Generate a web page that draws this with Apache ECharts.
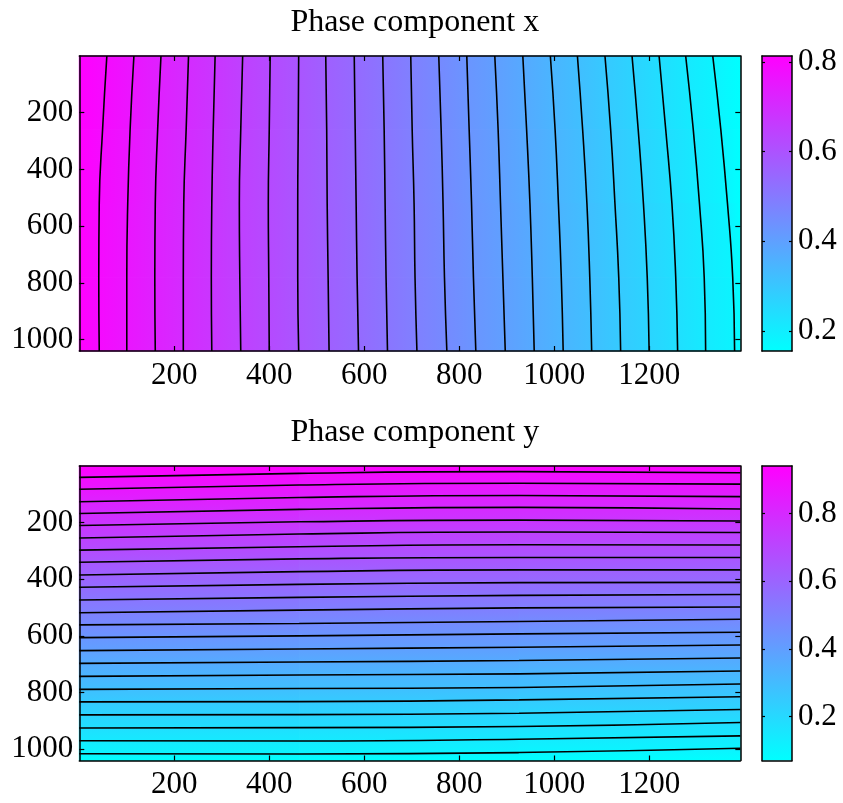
<!DOCTYPE html>
<html>
<head>
<meta charset="utf-8">
<script src="https://cdn.jsdelivr.net/npm/echarts@6/dist/echarts.min.js"></script>
<style>
html, body { margin: 0; padding: 0; background: #fff; }
#chart { width: 843px; height: 803px; }
</style>
</head>
<body>
<div id="chart"></div>
<script>
// image size (pixels)
var imgW = 1392
var imgH = 1040

// top panel: contour x positions, sampled at these rows
var topRowsY = [0, 260, 520, 780, 1040]
var topContourX = [
  [58, 49, 42, 41, 42],
  [115, 107, 102, 100, 100],
  [172, 165, 160, 159, 160],
  [230, 225, 220, 219, 219],
  [286, 282, 279, 278, 279],
  [344, 340, 337, 338, 340],
  [402, 400, 398, 399, 400],
  [462, 461, 460, 460, 462],
  [519, 521, 522, 524, 526],
  [579, 581, 583, 585, 588],
  [639, 642, 644, 646, 649],
  [698, 701, 705, 707, 711],
  [757, 762, 766, 769, 774],
  [816, 821, 826, 830, 835],
  [875, 882, 887, 892, 897],
  [934, 942, 949, 954, 958],
  [992, 1002, 1009, 1015, 1019],
  [1049, 1060, 1069, 1075, 1079],
  [1107, 1119, 1128, 1136, 1140],
  [1164, 1177, 1188, 1196, 1200],
  [1221, 1235, 1248, 1256, 1260],
  [1277, 1293, 1306, 1316, 1319],
  [1334, 1351, 1365, 1376, 1380]
]
var topLevels = [0.786, 0.758, 0.731, 0.703, 0.676, 0.649, 0.621, 0.594, 0.566, 0.539, 0.512, 0.484,
  0.457, 0.429, 0.402, 0.375, 0.347, 0.320, 0.292, 0.265, 0.238, 0.210, 0.183]
var topRange = [0.155, 0.813]

// bottom panel: contour y positions, sampled at these columns
var botColsX = [0, 463, 926, 1392]
var botContourY = [
  [40, 26, 20, 24],
  [82, 67, 61, 64],
  [126, 111, 104, 108],
  [168, 153, 146, 152],
  [210, 197, 191, 194],
  [254, 240, 233, 235],
  [297, 285, 278, 279],
  [340, 328, 323, 323],
  [385, 373, 367, 367],
  [428, 418, 412, 411],
  [473, 464, 457, 454],
  [518, 509, 501, 498],
  [561, 556, 549, 541],
  [606, 600, 593, 587],
  [652, 646, 640, 632],
  [697, 692, 687, 678],
  [743, 738, 734, 724],
  [789, 786, 782, 770],
  [833, 832, 826, 815],
  [879, 878, 873, 860],
  [925, 924, 920, 906],
  [970, 971, 965, 953],
  [1016, 1017, 1012, 997]
]
var botLevels = [0.904, 0.868, 0.831, 0.795, 0.759, 0.722, 0.686, 0.650, 0.614, 0.578, 0.541, 0.505,
  0.469, 0.433, 0.396, 0.360, 0.324, 0.288, 0.251, 0.215, 0.179, 0.143, 0.106]
var botRange = [0.07, 0.94]

var xTicks = [200, 400, 600, 800, 1000, 1200]
var yTicks = [200, 400, 600, 800, 1000]
var barTicks = [0.2, 0.4, 0.6, 0.8]
var titles = ['Phase component x', 'Phase component y']

var font = 'Liberation Serif'
var plotLeft = 79.3
var plotW = 661
var barLeft = 762
var barW = 30
var panelTop = [56, 466]
var panelH = [295, 294.5]

// matlab "cool" colormap
function cool(v, range) {
  var t = (v - range[0]) / (range[1] - range[0])
  t = Math.max(0, Math.min(1, t))
  return 'rgb(' + Math.round(255 * t) + ',' + Math.round(255 * (1 - t)) + ',255)'
}

function plain(v) {
  return String(v)
}

function xAx(grid, pos, min, max, ticks, labels) {
  return {
    type: 'value', gridIndex: grid, position: pos, min: min, max: max, z: 10,
    axisLine: { show: true, onZero: false, lineStyle: { color: '#000', width: 1.5 } },
    axisTick: { show: !!ticks, inside: true, length: 5, customValues: ticks || [], lineStyle: { color: '#000', width: 1.2 } },
    axisLabel: { show: labels, customValues: ticks || [], formatter: plain, margin: 9, color: '#000', fontSize: 31, fontFamily: font },
    splitLine: { show: false }
  }
}

function yAx(grid, pos, min, max, ticks, labels, inverse, tickLen) {
  return {
    type: 'value', gridIndex: grid, position: pos, min: min, max: max, inverse: inverse, z: 10,
    axisLine: { show: true, onZero: false, lineStyle: { color: '#000', width: 1.5 } },
    axisTick: { show: true, inside: true, length: tickLen, customValues: ticks, lineStyle: { color: '#000', width: 1.2 } },
    axisLabel: { show: labels, customValues: ticks, formatter: plain, margin: 6, color: '#000', fontSize: 31, fontFamily: font },
    splitLine: { show: false }
  }
}

// band polygons between neighbouring contours, one per sampled segment
function bandSeries(xi, yi, bounds, samples, vals, range, vertical) {
  var data = []
  for (var i = 0; i < bounds.length - 1; i++) {
    for (var r = 0; r < samples.length - 1; r++) data.push([i, r])
  }
  return {
    type: 'custom',
    xAxisIndex: xi,
    yAxisIndex: yi,
    silent: true,
    data: data,
    renderItem: function(params, api) {
      var i = api.value(0)
      var r = api.value(1)
      var pt = function(b, k) {
        return vertical ? api.coord([samples[k], bounds[b][k]]) : api.coord([bounds[b][k], samples[k]])
      }
      var p0 = pt(i, r)
      var p1 = pt(i, r + 1)
      var p2 = pt(i + 1, r + 1)
      var p3 = pt(i + 1, r)
      var a = [(p0[0] + p1[0]) / 2, (p0[1] + p1[1]) / 2]
      var b = [(p2[0] + p3[0]) / 2, (p2[1] + p3[1]) / 2]
      var stops = [{ offset: 0, color: cool(vals[i], range) }, { offset: 1, color: cool(vals[i + 1], range) }]
      var g = vertical
        ? new echarts.graphic.LinearGradient(a[0], a[1], a[0], b[1], stops, true)
        : new echarts.graphic.LinearGradient(a[0], a[1], b[0], a[1], stops, true)
      return {
        type: 'polygon',
        shape: { points: [p0, p1, p2, p3] },
        style: { fill: g, stroke: g, lineWidth: 1 }
      }
    }
  }
}

function colorBar(xi, yi, range) {
  return {
    type: 'custom',
    xAxisIndex: xi,
    yAxisIndex: yi,
    silent: true,
    data: [[0, range[0], range[1]]],
    renderItem: function(params, api) {
      var lo = api.coord([0, api.value(1)])
      var hi = api.coord([1, api.value(2)])
      return {
        type: 'rect',
        shape: { x: lo[0], y: hi[1], width: hi[0] - lo[0], height: lo[1] - hi[1] },
        style: {
          fill: new echarts.graphic.LinearGradient(0, 0, 0, 1, [
            { offset: 0, color: cool(range[1], range) }, { offset: 1, color: cool(range[0], range) }])
        }
      }
    }
  }
}

function contourLines(xi, yi, lines, samples, vertical) {
  return lines.map(function(line) {
    return {
      type: 'line',
      xAxisIndex: xi,
      yAxisIndex: yi,
      silent: true,
      symbol: 'none',
      smooth: true,
      z: 5,
      lineStyle: { color: '#000', width: 1.6 },
      data: line.map(function(v, k) {
        return vertical ? [samples[k], v] : [v, samples[k]]
      })
    }
  })
}

var topBounds = [topRowsY.map(function() { return 0 })].concat(topContourX, [topRowsY.map(function() { return imgW })])
var topVals = [topRange[1]].concat(topLevels, [topRange[0]])
var botBounds = [botColsX.map(function() { return 0 })].concat(botContourY, [botColsX.map(function() { return imgH })])
var botVals = [botRange[1]].concat(botLevels, [botRange[0]])

var chart = echarts.init(document.getElementById('chart'))
chart.setOption({
  animation: false,
  backgroundColor: '#fff',
  title: titles.map(function(t, k) {
    return {
      text: t,
      left: plotLeft + plotW / 2,
      textAlign: 'center',
      top: panelTop[k] - 54,
      textStyle: { fontFamily: font, fontSize: 32, fontWeight: 'normal', color: '#000' }
    }
  }),
  grid: [
    { left: plotLeft, top: panelTop[0], width: plotW, height: panelH[0] },
    { left: barLeft, top: panelTop[0], width: barW, height: panelH[0] },
    { left: plotLeft, top: panelTop[1], width: plotW, height: panelH[1] },
    { left: barLeft, top: panelTop[1], width: barW, height: panelH[1] }
  ],
  xAxis: [
    xAx(0, 'bottom', 0, imgW, xTicks, true),
    xAx(0, 'top', 0, imgW, xTicks, false),
    xAx(1, 'bottom', 0, 1, null, false),
    xAx(1, 'top', 0, 1, null, false),
    xAx(2, 'bottom', 0, imgW, xTicks, true),
    xAx(2, 'top', 0, imgW, xTicks, false),
    xAx(3, 'bottom', 0, 1, null, false),
    xAx(3, 'top', 0, 1, null, false)
  ],
  yAxis: [
    yAx(0, 'left', 0, imgH, yTicks, true, true, 5),
    yAx(0, 'right', 0, imgH, yTicks, false, true, 5),
    yAx(1, 'left', topRange[0], topRange[1], barTicks, false, false, 3),
    yAx(1, 'right', topRange[0], topRange[1], barTicks, true, false, 3),
    yAx(2, 'left', 0, imgH, yTicks, true, true, 5),
    yAx(2, 'right', 0, imgH, yTicks, false, true, 5),
    yAx(3, 'left', botRange[0], botRange[1], barTicks, false, false, 3),
    yAx(3, 'right', botRange[0], botRange[1], barTicks, true, false, 3)
  ],
  series: [
    bandSeries(0, 0, topBounds, topRowsY, topVals, topRange, false),
    colorBar(2, 2, topRange),
    bandSeries(4, 4, botBounds, botColsX, botVals, botRange, true),
    colorBar(6, 6, botRange)
  ].concat(
    contourLines(0, 0, topContourX, topRowsY, false),
    contourLines(4, 4, botContourY, botColsX, true)
  )
})
</script>
</body>
</html>
